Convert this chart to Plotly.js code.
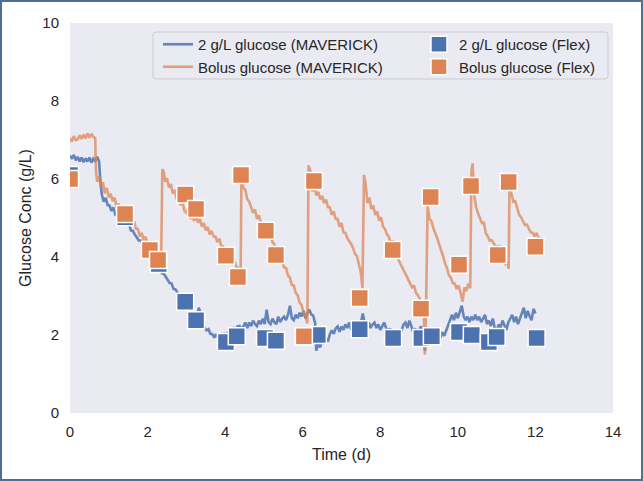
<!DOCTYPE html>
<html>
<head>
<meta charset="utf-8">
<script src="https://cdn.plot.ly/plotly-3.0.1.min.js"></script>
<style>
html,body{margin:0;padding:0;background:#fff;}
#wrap{position:relative;width:643px;height:481px;}
#chart{width:643px;height:481px;}
#frame{position:absolute;left:0;top:0;width:643px;height:481px;box-sizing:border-box;border:2px solid #4d6f97;pointer-events:none;}
</style>
</head>
<body>
<div id="wrap"><div id="chart"></div><div id="frame"></div></div>
<script>
// Continuous MAVERICK probe traces
const maverick2gX = [0.00,0.05,0.10,0.15,0.20,0.25,0.30,0.35,0.40,0.45,0.50,0.55,0.60,0.65,0.70,0.75,0.78,0.82,0.87,0.92,0.97,1.02,1.07,1.12,1.17,1.22,1.27,1.32,1.37,1.42,1.47,1.52,1.57,1.62,1.67,1.72,1.77,1.82,1.87,1.92,1.97,2.02,2.07,2.12,2.17,2.22,2.27,2.32,2.37,2.42,2.47,2.52,2.57,2.62,2.67,2.72,2.77,2.82,2.87,2.92,2.97,3.02,3.07,3.12,3.17,3.22,3.27,3.32,3.37,3.42,3.47,3.52,3.57,3.62,3.67,3.72,3.77,3.82,3.87,3.92,3.97,4.02,4.07,4.12,4.17,4.22,4.27,4.32,4.37,4.42,4.47,4.52,4.57,4.62,4.67,4.72,4.77,4.82,4.87,4.92,4.97,5.02,5.07,5.12,5.17,5.22,5.27,5.32,5.37,5.42,5.47,5.52,5.57,5.62,5.67,5.72,5.77,5.82,5.87,5.92,5.97,6.02,6.07,6.12,6.17,6.22,6.27,6.32,6.35,6.40,6.45,6.50,6.55,6.60,6.65,6.70,6.75,6.80,6.85,6.90,6.95,7.00,7.05,7.10,7.15,7.20,7.25,7.30,7.35,7.40,7.45,7.50,7.55,7.60,7.65,7.70,7.75,7.80,7.85,7.90,7.95,8.00,8.05,8.10,8.15,8.20,8.25,8.30,8.35,8.40,8.45,8.50,8.55,8.60,8.65,8.70,8.75,8.80,8.85,8.90,8.95,9.00,9.05,9.10,9.15,9.20,9.25,9.30,9.35,9.40,9.45,9.50,9.55,9.60,9.65,9.70,9.75,9.80,9.85,9.90,9.95,10.00,10.05,10.10,10.15,10.20,10.25,10.30,10.35,10.40,10.45,10.50,10.55,10.60,10.65,10.70,10.75,10.80,10.85,10.90,10.95,11.00,11.05,11.10,11.15,11.20,11.25,11.30,11.35,11.40,11.45,11.50,11.55,11.60,11.65,11.70,11.75,11.80,11.85,11.90,11.95,12.00];
const maverick2gY = [6.60,6.52,6.62,6.48,6.57,6.45,6.55,6.43,6.53,6.45,6.55,6.42,6.52,6.46,6.57,6.45,6.00,5.60,5.42,5.52,5.33,5.32,5.18,5.27,5.08,5.07,5.12,4.98,4.95,5.02,4.88,4.87,4.68,4.67,4.58,4.52,4.43,4.42,4.33,4.27,4.18,4.12,4.03,3.97,3.88,3.87,3.73,3.72,3.58,3.57,3.48,3.42,3.33,3.32,3.18,3.17,3.08,3.02,2.93,2.92,2.83,2.82,2.68,2.62,2.48,2.47,2.38,2.70,2.55,2.30,2.18,2.12,2.15,2.03,2.02,1.93,2.02,1.93,1.92,1.95,2.02,1.93,2.07,2.08,2.17,2.18,2.08,2.22,2.23,2.13,2.22,2.32,2.18,2.32,2.23,2.37,2.28,2.23,2.37,2.28,2.42,2.28,2.65,2.33,2.28,2.42,2.33,2.28,2.47,2.33,2.42,2.47,2.38,2.52,2.75,2.43,2.38,2.52,2.43,2.57,2.48,2.62,2.43,2.57,2.65,2.53,2.50,2.30,1.60,1.77,1.68,1.87,1.78,1.92,1.83,2.02,2.12,2.03,2.17,2.22,2.08,2.22,2.13,2.27,2.18,2.32,2.13,2.27,2.32,2.18,2.27,2.32,2.55,2.28,2.23,2.32,2.18,2.27,2.32,2.18,2.27,2.13,2.22,2.32,2.18,2.08,2.17,1.98,1.97,1.88,1.97,2.02,2.12,2.27,2.32,2.18,2.37,2.23,2.08,2.17,2.03,2.12,2.22,2.03,1.60,2.12,1.98,1.93,2.07,1.88,1.97,2.02,1.93,2.07,1.98,2.12,2.22,2.37,2.52,2.38,2.57,2.43,2.62,2.75,2.48,2.38,2.47,2.33,2.47,2.38,2.52,2.38,2.47,2.33,2.42,2.52,2.28,2.37,2.23,2.42,2.18,2.08,2.27,2.18,2.37,2.23,2.13,2.32,2.42,2.52,2.33,2.47,2.28,2.42,2.57,2.70,2.43,2.62,2.48,2.38,2.67,2.55];

const maverickBolusX = [0.00,0.05,0.10,0.15,0.20,0.25,0.30,0.35,0.40,0.45,0.50,0.55,0.60,0.65,0.67,0.70,0.75,0.80,0.85,0.90,0.95,1.00,1.05,1.10,1.15,1.20,1.25,1.30,1.35,1.40,1.45,1.50,1.55,1.60,1.65,1.70,1.75,1.80,1.85,1.90,1.95,2.00,2.05,2.10,2.15,2.20,2.25,2.30,2.35,2.38,2.42,2.45,2.50,2.55,2.60,2.65,2.70,2.75,2.80,2.85,2.90,2.95,3.00,3.05,3.10,3.15,3.20,3.25,3.30,3.35,3.40,3.45,3.50,3.55,3.60,3.65,3.70,3.75,3.80,3.85,3.90,3.95,4.00,4.05,4.10,4.15,4.20,4.25,4.30,4.35,4.40,4.42,4.47,4.52,4.57,4.62,4.67,4.72,4.77,4.82,4.87,4.92,4.97,5.02,5.07,5.12,5.17,5.22,5.27,5.32,5.37,5.42,5.47,5.52,5.57,5.62,5.67,5.72,5.77,5.82,5.87,5.92,5.97,6.02,6.07,6.12,6.15,6.20,6.25,6.30,6.35,6.40,6.45,6.50,6.55,6.60,6.65,6.70,6.75,6.80,6.85,6.90,6.95,7.00,7.05,7.10,7.15,7.20,7.25,7.30,7.35,7.40,7.45,7.50,7.54,7.58,7.62,7.67,7.72,7.77,7.82,7.87,7.92,7.97,8.02,8.07,8.12,8.17,8.22,8.27,8.32,8.37,8.42,8.47,8.52,8.57,8.62,8.67,8.72,8.77,8.82,8.87,8.92,8.97,9.02,9.07,9.12,9.15,9.18,9.22,9.27,9.32,9.37,9.42,9.47,9.52,9.57,9.62,9.67,9.72,9.77,9.82,9.87,9.92,9.97,10.02,10.07,10.12,10.17,10.22,10.27,10.32,10.35,10.38,10.42,10.47,10.52,10.57,10.62,10.67,10.72,10.77,10.82,10.87,10.92,10.97,11.02,11.07,11.12,11.17,11.22,11.27,11.31,11.33,11.38,11.43,11.48,11.53,11.58,11.63,11.68,11.73,11.78,11.83,11.88,11.93,11.98,12.03,12.08,12.13,12.17];
const maverickBolusY = [7.05,6.96,7.10,7.00,7.02,7.12,7.03,7.14,7.04,7.17,7.06,7.16,7.08,7.05,6.20,5.93,6.07,5.78,5.92,5.63,5.77,5.53,5.62,5.43,5.52,5.28,5.37,5.13,5.22,5.03,5.02,4.93,5.00,4.83,4.92,4.73,4.72,4.53,4.62,4.43,4.52,4.33,4.32,4.18,4.27,4.03,4.12,3.93,3.85,6.25,6.18,5.93,6.02,5.78,5.87,5.63,5.72,5.48,5.57,5.33,5.42,5.18,5.13,5.27,4.98,5.07,4.93,5.07,4.88,4.97,4.78,4.87,4.68,4.77,4.58,4.67,4.53,4.52,4.38,4.47,4.28,4.27,4.08,4.22,3.98,3.97,3.88,3.87,3.73,3.72,3.65,6.05,5.78,5.72,5.48,5.42,5.28,5.13,5.22,4.98,5.07,4.88,4.87,4.73,4.72,4.53,4.62,4.38,4.32,4.18,4.17,3.98,3.92,3.73,3.72,3.53,3.47,3.28,3.27,3.08,3.02,2.83,2.77,2.58,2.47,2.30,6.35,6.20,5.68,5.82,5.58,5.67,5.48,5.57,5.38,5.47,5.28,5.27,5.08,5.17,4.98,4.97,4.78,4.87,4.63,4.62,4.48,4.42,4.33,4.22,4.08,4.02,3.83,3.60,3.20,6.10,5.88,5.38,5.52,5.23,5.32,5.08,5.17,4.93,5.02,4.78,4.72,4.58,4.52,4.33,4.42,4.18,4.12,3.93,3.82,3.73,3.62,3.53,3.42,3.33,3.22,3.27,3.08,3.02,2.93,2.82,2.60,1.50,2.70,5.30,4.98,4.92,4.73,4.62,4.48,4.32,4.18,4.02,3.83,3.72,3.53,3.47,3.33,3.32,3.18,3.27,3.08,2.85,3.22,3.13,3.32,3.20,6.20,6.40,5.60,5.28,5.12,4.98,4.87,4.88,4.62,4.53,4.42,4.43,4.37,4.28,4.27,4.28,4.12,3.88,3.82,3.88,3.70,5.70,5.63,5.42,5.43,5.22,5.08,5.02,4.93,4.82,4.83,4.72,4.63,4.62,4.53,4.62,4.48,4.47,4.50];

// Flex offline samples
const flex2gX = [0.00,1.42,2.29,2.97,3.25,4.02,4.30,5.03,5.31,6.03,6.39,7.47,8.33,9.06,9.33,10.03,10.36,10.80,11.00,12.03];
const flex2gY = [6.10,5.02,3.82,2.85,2.38,1.82,1.97,1.92,1.85,1.97,2.00,2.15,1.92,1.92,1.97,2.08,2.00,1.82,1.95,1.92];
const flexBolusX = [0.00,1.42,2.06,2.27,2.97,3.25,4.02,4.33,4.41,5.05,5.31,6.03,6.29,7.47,8.32,9.05,9.30,10.03,10.34,11.03,11.31,12.00];
const flexBolusY = [6.00,5.10,4.18,3.92,5.60,5.23,4.03,3.49,6.10,4.67,4.05,1.97,5.95,2.95,4.18,2.67,5.54,3.80,5.82,4.05,5.92,4.26];

const seriesNames = ['2 g/L glucose (MAVERICK)','Bolus glucose (MAVERICK)','2 g/L glucose (Flex)','Bolus glucose (Flex)'];
const xTicks = [0,2,4,6,8,10,12,14];
const yTicks = [0,2,4,6,8,10];

const BLUE = '#4c72b0', ORANGE = '#dd8452';
const font = 'Arial, "Liberation Sans", sans-serif';

const traces = [
  {x: maverick2gX, y: maverick2gY, name: seriesNames[0], mode: 'lines', type: 'scatter',
   line: {color: BLUE, width: 2.6}, opacity: 0.85, legend: 'legend'},
  {x: maverickBolusX, y: maverickBolusY, name: seriesNames[1], mode: 'lines', type: 'scatter',
   line: {color: ORANGE, width: 2.6}, opacity: 0.72, legend: 'legend'},
  {x: flex2gX, y: flex2gY, name: seriesNames[2], mode: 'markers', type: 'scatter',
   marker: {symbol: 'square', size: 17, color: BLUE, line: {color: '#ffffff', width: 1.5}}, legend: 'legend2'},
  {x: flexBolusX, y: flexBolusY, name: seriesNames[3], mode: 'markers', type: 'scatter',
   marker: {symbol: 'square', size: 17, color: ORANGE, line: {color: '#ffffff', width: 1.5}}, legend: 'legend2'}
];

// plot area in pixels: x 70..613, y 23..413
const PL = 70, PW = 543, PT = 23, PH = 390;
const px = v => (v - PL) / PW;
const py = v => (PT + PH - v) / PH;
function roundRect(x0, y0, x1, y1, r) {
  const X0 = px(x0), X1 = px(x1), Y0 = py(y0), Y1 = py(y1);
  const rx = r / PW, ry = r / PH;
  return `M ${X0 + rx} ${Y0} L ${X1 - rx} ${Y0} Q ${X1} ${Y0} ${X1} ${Y0 - ry} L ${X1} ${Y1 + ry} Q ${X1} ${Y1} ${X1 - rx} ${Y1} L ${X0 + rx} ${Y1} Q ${X0} ${Y1} ${X0} ${Y1 + ry} L ${X0} ${Y0 - ry} Q ${X0} ${Y0} ${X0 + rx} ${Y0} Z`;
}

const legendCommon = {
  orientation: 'v', xanchor: 'left', yanchor: 'top',
  bgcolor: 'rgba(0,0,0,0)', borderwidth: 0,
  font: {family: font, size: 15, color: '#262626'},
  traceorder: 'normal', tracegroupgap: 0
};

const layout = {
  width: 643, height: 481,
  margin: {l: PL, r: 643 - PL - PW, t: PT, b: 481 - PT - PH, pad: 0},
  paper_bgcolor: '#ffffff',
  plot_bgcolor: '#eaeaf2',
  font: {family: font, size: 15, color: '#262626'},
  showlegend: true,
  legend: Object.assign({}, legendCommon, {x: px(158), y: py(28)}),
  legend2: Object.assign({}, legendCommon, {x: px(419), y: py(28)}),
  shapes: [{
    type: 'path', xref: 'paper', yref: 'paper', path: roundRect(153, 32, 608, 79, 3),
    fillcolor: '#eaeaf2', line: {color: '#cccccc', width: 1}, layer: 'above'
  }],
  xaxis: {
    range: [0, 14], tickvals: xTicks, ticktext: xTicks.map(String),
    showgrid: false, zeroline: false, showline: false, ticks: '',
    ticklabelstandoff: 8, tickfont: {size: 15, color: '#262626'},
    title: {text: 'Time (d)', font: {size: 16, color: '#262626'}, standoff: 9}
  },
  yaxis: {
    range: [0, 10], tickvals: yTicks, ticktext: yTicks.map(String),
    showgrid: false, zeroline: false, showline: false, ticks: '',
    ticklabelstandoff: 10, tickfont: {size: 15, color: '#262626'},
    title: {text: 'Glucose Conc (g/L)', font: {size: 16, color: '#262626'}, standoff: 6}
  }
};

Plotly.newPlot('chart', traces, layout, {staticPlot: true, displayModeBar: false});
</script>
</body>
</html>
